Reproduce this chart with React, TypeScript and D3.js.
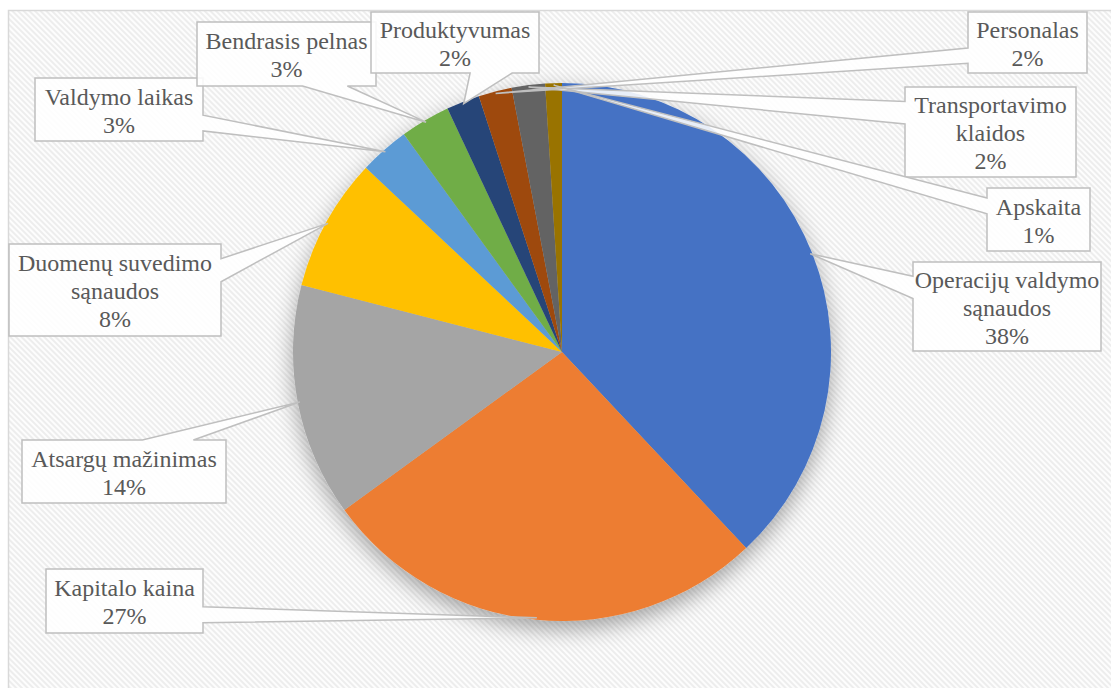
import React from "react";
import * as d3 from "d3";

const categories = [
  "Operacijų valdymo sąnaudos",
  "Kapitalo kaina",
  "Atsargų mažinimas",
  "Duomenų suvedimo sąnaudos",
  "Valdymo laikas",
  "Bendrasis pelnas",
  "Produktyvumas",
  "Personalas",
  "Transportavimo klaidos",
  "Apskaita",
];
const values = [38, 27, 14, 8, 3, 3, 2, 2, 2, 1];
const colors = [
  "#4472C4", "#ED7D31", "#A5A5A5", "#FFC000", "#5B9BD5",
  "#70AD47", "#264478", "#9E480E", "#636363", "#997300",
];
const labelLines = [
  ["Operacijų valdymo", "sąnaudos"],
  ["Kapitalo kaina"],
  ["Atsargų mažinimas"],
  ["Duomenų suvedimo", "sąnaudos"],
  ["Valdymo laikas"],
  ["Bendrasis pelnas"],
  ["Produktyvumas"],
  ["Personalas"],
  ["Transportavimo", "klaidos"],
  ["Apskaita"],
];

// label box layout: x, y, w, h, side where the pointer leaves
type Box = { x: number; y: number; w: number; h: number; side: "left" | "right" | "top" | "bottom" };
const boxes: Box[] = [
  { x: 913, y: 262, w: 188, h: 89, side: "left" },
  { x: 46, y: 569, w: 157, h: 64, side: "right" },
  { x: 22, y: 440, w: 204, h: 63, side: "top" },
  { x: 9, y: 244, w: 212, h: 92, side: "right" },
  { x: 35, y: 78, w: 168, h: 63, side: "right" },
  { x: 197, y: 22, w: 179, h: 64, side: "bottom" },
  { x: 371, y: 12, w: 168, h: 61, side: "bottom" },
  { x: 968, y: 12, w: 119, h: 61, side: "left" },
  { x: 905, y: 87, w: 171, h: 90, side: "left" },
  { x: 987, y: 188, w: 103, h: 63, side: "left" },
];

const W = 1111;
const H = 688;
const cx = 562;
const cy = 352;
const R = 269;

function calloutPath(b: Box, tx: number, ty: number): string {
  const { x, y, w, h, side } = b;
  const x2 = x + w;
  const y2 = y + h;
  const fr = (t: number) => (t ? [0.59, 0.84] : [0.16, 0.41]);
  const pts: [number, number][] = [];
  pts.push([x, y]);
  if (side === "top") {
    const [a, c] = fr(tx > x + w / 2 ? 1 : 0);
    pts.push([x + a * w, y], [tx, ty], [x + c * w, y]);
  }
  pts.push([x2, y]);
  if (side === "right") {
    const [a, c] = fr(ty > y + h / 2 ? 1 : 0);
    pts.push([x2, y + a * h], [tx, ty], [x2, y + c * h]);
  }
  pts.push([x2, y2]);
  if (side === "bottom") {
    const [a, c] = fr(tx > x + w / 2 ? 1 : 0);
    pts.push([x + c * w, y2], [tx, ty], [x + a * w, y2]);
  }
  pts.push([x, y2]);
  if (side === "left") {
    const [a, c] = fr(ty > y + h / 2 ? 1 : 0);
    pts.push([x, y + c * h], [tx, ty], [x, y + a * h]);
  }
  return "M" + pts.map((p) => p.join(",")).join("L") + "Z";
}

export default function App() {
  const total = d3.sum(values);
  const pie = d3.pie<number>().sort(null).value((d) => d);
  const arcs = pie(values);
  const arc = d3.arc<d3.PieArcDatum<number>>().innerRadius(0).outerRadius(R);
  const edge = d3.arc<d3.PieArcDatum<number>>().innerRadius(R - 2).outerRadius(R - 2);
  const pct = d3.format(".0%");

  return (
    <svg
      width={W}
      height={H}
      style={{ position: "absolute", left: 0, top: 0, background: "#fff" }}
    >
      <defs>
        <pattern id="hatch" width={4} height={4} patternUnits="userSpaceOnUse" patternTransform="rotate(-45)">
          <rect width={4} height={4} fill="#fdfdfd" />
          <line x1={1} y1={0} x2={1} y2={4} stroke="#e9e9e9" strokeWidth={1.6} />
        </pattern>
        <filter id="shadow" x="-20%" y="-20%" width="140%" height="150%">
          <feDropShadow dx={0} dy={8} stdDeviation={11} floodColor="#000" floodOpacity={0.35} />
        </filter>
      </defs>
      <rect x={8.5} y={10.5} width={W + 20} height={H + 20} fill="url(#hatch)" stroke="#d9d9d9" strokeWidth={1.5} />
      <g transform={`translate(${cx},${cy})`} filter="url(#shadow)">
        {arcs.map((a, i) => (
          <path key={i} d={arc(a) as string} fill={colors[i]} />
        ))}
      </g>
      {arcs.map((a, i) => {
        const [ex, ey] = edge.centroid(a);
        const b = boxes[i];
        const lines = [...labelLines[i], pct(values[i] / total)];
        const lh = 28;
        const y0 = b.y + (b.h - lines.length * lh) / 2 + 23;
        return (
          <path
            key={"c" + i}
            d={calloutPath(b, cx + ex, cy + ey)}
            fill="#ffffff"
            fillOpacity={0.88}
            stroke="#bfbfbf"
            strokeWidth={1.5}
          />
        );
      })}
      {arcs.map((a, i) => {
        const b = boxes[i];
        const lines = [...labelLines[i], pct(values[i] / total)];
        const lh = 28;
        const y0 = b.y + (b.h - lines.length * lh) / 2 + 23;
        return lines.map((l, k) => (
          <text
            key={i + "-" + k}
            x={b.x + b.w / 2}
            y={y0 + k * lh}
            textAnchor="middle"
            fill="#595959"
            style={{ fontFamily: "'Liberation Serif'", fontSize: "24px" }}
          >
            {l}
          </text>
        ));
      })}
    </svg>
  );
}
